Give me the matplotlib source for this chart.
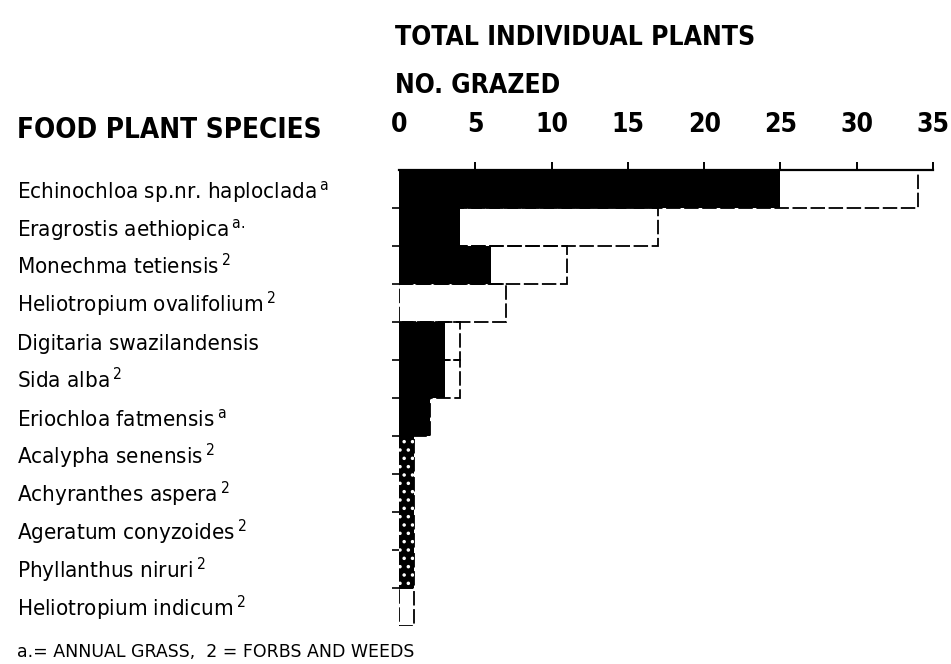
import numpy as np
import matplotlib
matplotlib.use("Agg")
from matplotlib import pyplot as plt

plt.rcParams['font.family'] = ['DejaVu Sans']
plt.rcParams['font.stretch'] = 'condensed'
plt.rcParams['mathtext.default'] = 'regular'
plt.rcParams['hatch.linewidth'] = 1.3

# Food plants and counts of plants seen / plants grazed
species = ["Echinochloa sp.nr. haploclada", "Eragrostis aethiopica",
           "Monechma tetiensis", "Heliotropium ovalifolium",
           "Digitaria swazilandensis", "Sida alba", "Eriochloa fatmensis",
           "Acalypha senensis", "Achyranthes aspera", "Ageratum conyzoides",
           "Phyllanthus niruri", "Heliotropium indicum"]
marks = ["a", "a.", "2", "2", "", "2", "a", "2", "2", "2", "2", "2"]
total = [34, 17, 11, 7, 4, 4, 2, 1, 1, 1, 1, 1]
grazed = [25, 4, 6, 0, 3, 3, 2, 1, 1, 1, 1, 0]
stippled = [False] * 7 + [True] * 4 + [False]
xticks = [0, 5, 10, 15, 20, 25, 30, 35]

fig = plt.figure(figsize=(9.51, 6.64), dpi=100)
ax = fig.add_axes([399 / 951, 38 / 664, 534 / 951, 456 / 664])

y = np.arange(len(species))

# total plants: open boxes with a broken outline
ax.barh(y, total, height=1.0, fill=False, edgecolor='black',
        linewidth=1.3, linestyle=(0, (8, 2)), zorder=2)
# grazed plants: solid black
ax.barh(y, grazed, height=1.0, color='black', linewidth=0, zorder=3)
# the small forbs are printed with a screen instead of solid black
for yi, g, s in zip(y, grazed, stippled):
    if s:
        ax.barh(yi, g, height=1.0, fill=False, hatch='..',
                edgecolor='white', linewidth=0, zorder=4)

ax.set_xlim(0, 35)
ax.set_ylim(len(species) - 0.5, -0.5)

for side in ['left', 'right', 'bottom']:
    ax.spines[side].set_visible(False)
ax.spines['top'].set_linewidth(1.6)

ax.xaxis.tick_top()
ax.set_xticks(xticks)
ax.set_xticklabels([str(t) for t in xticks], fontsize=19, fontweight='bold')
ax.tick_params(axis='x', direction='out', length=6, width=1.4, pad=17)
ax.xaxis.get_major_ticks()[0].tick2line.set_visible(False)

ax.set_yticks(y[:-1] + 0.5)
ax.set_yticklabels([])
ax.tick_params(axis='y', direction='out', length=5, width=1.2)

# species names with their footnote marks
for yi, name, m in zip(y, species, marks):
    label = name + (r"$\,^{%s}$" % m if m else "")
    ax.text(-0.7154, yi + 0.24, label, transform=ax.get_yaxis_transform(),
            ha='left', va='baseline', fontsize=16)

fig.text(395 / 951, 1 - 45 / 664, "TOTAL INDIVIDUAL PLANTS",
         fontsize=19, fontweight='bold', ha='left', va='baseline')
fig.text(395 / 951, 1 - 93 / 664, "NO. GRAZED",
         fontsize=19, fontweight='bold', ha='left', va='baseline')
fig.text(17 / 951, 1 - 138 / 664, "FOOD PLANT SPECIES",
         fontsize=20, fontweight='bold', ha='left', va='baseline')
fig.text(17 / 951, 1 - 657 / 664, "a.= ANNUAL GRASS,  2 = FORBS AND WEEDS",
         fontsize=12.5, fontstretch='normal', ha='left', va='baseline')

fig.savefig("out.png", dpi=100, facecolor='white')
